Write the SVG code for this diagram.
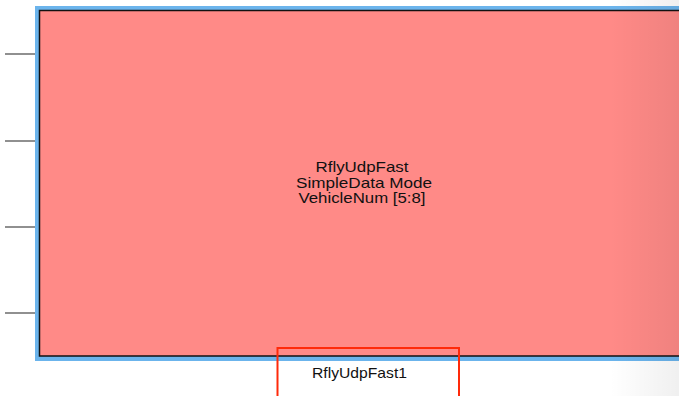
<svg xmlns="http://www.w3.org/2000/svg" width="679" height="396" viewBox="0 0 679 396">
  <style>
    .port { stroke: #222222; stroke-width: 1.2; fill: none; }
    .txt { font-family: "Liberation Sans", Arial, sans-serif; font-size: 14.5px; fill: #111111; text-anchor: middle; }
  </style>
  <defs>
    <linearGradient id="fade" x1="0" y1="0" x2="1" y2="0">
      <stop offset="0" stop-color="#000" stop-opacity="0"/>
      <stop offset="1" stop-color="#000" stop-opacity="0.06"/>
    </linearGradient>
  </defs>
  <rect x="0" y="0" width="679" height="396" fill="#ffffff"/>
  <g id="connectors">
    <line class="port" x1="5" y1="54" x2="39" y2="54"/>
    <line class="port" x1="5" y1="141" x2="39" y2="141"/>
    <line class="port" x1="5" y1="227" x2="39" y2="227"/>
    <line class="port" x1="5" y1="313" x2="39" y2="313"/>
  </g>
  <g id="RflyUdpFast1">
    <rect x="35" y="6" width="700" height="355" fill="#6bb4ec"/>
    <rect x="39.5" y="10.5" width="700" height="345.5" fill="#ff8a87" stroke="#111" stroke-width="1.5"/>
    <text class="txt" x="362" y="172" textLength="93" lengthAdjust="spacingAndGlyphs">RflyUdpFast</text>
    <text class="txt" x="364" y="187.5" textLength="136" lengthAdjust="spacingAndGlyphs">SimpleData Mode</text>
    <text class="txt" x="362" y="203" textLength="127" lengthAdjust="spacingAndGlyphs">VehicleNum [5:8]</text>
  </g>
  <g id="label">
    <rect x="277.5" y="348" width="181.5" height="60" fill="none" stroke="#ff2a0a" stroke-width="2"/>
    <text class="txt" x="359.5" y="378" style="font-size:15px" textLength="95" lengthAdjust="spacingAndGlyphs">RflyUdpFast1</text>
  </g>
  <rect x="610" y="0" width="69" height="396" fill="url(#fade)"/>
</svg>
